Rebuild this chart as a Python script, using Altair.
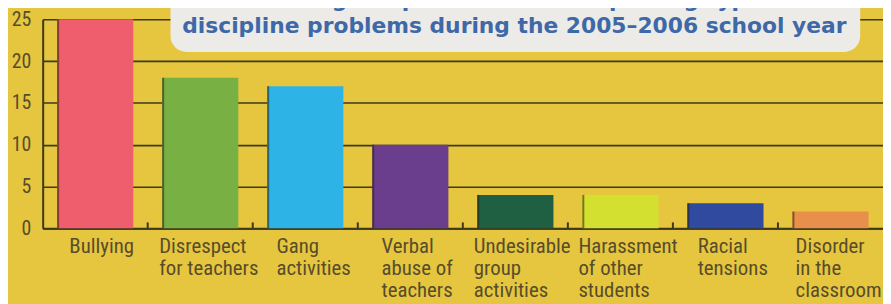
import altair as alt
import pandas as pd

# ---- data ----
categories = ["Bullying", "Disrespect for teachers", "Gang activities",
              "Verbal abuse of teachers", "Undesirable group activities",
              "Harassment of other students", "Racial tensions",
              "Disorder in the classroom"]
label_lines = [["Bullying"], ["Disrespect", "for teachers"], ["Gang", "activities"],
               ["Verbal", "abuse of", "teachers"], ["Undesirable", "group", "activities"],
               ["Harassment", "of other", "students"], ["Racial", "tensions"],
               ["Disorder", "in the", "classroom"]]
values = [25, 18, 17, 10, 4, 4, 3, 2]
bar_colors = ["#ee5e6c", "#78b044", "#2db3e6", "#6a3d8d", "#1f5f42",
              "#d4e02f", "#2f4a9e", "#e8904b"]
y_ticks = [0, 5, 10, 15, 20, 25]
title_lines = ["Percentage of public schools reporting types of",
               "discipline problems during the 2005\u20132006 school year"]

# ---- styling ----
BG = "#e6c63e"
DARK = "#3d3820"
LABEL = "#574d2c"
BLUE = "#3e68a8"
BOX = "#ecebe7"
W, H = 848, 211
LABEL_FONT = "Liberation Sans Narrow, Roboto Condensed, Liberation Sans"
LABEL_SIZE = 21

# approximate Arial advance widths (per 1000 em) for centring label blocks
_w = dict(a=556, b=556, c=500, d=556, e=556, f=278, g=556, h=556, i=222, j=222,
          k=500, l=222, m=833, n=556, o=556, p=556, q=556, r=333, s=500, t=278,
          u=556, v=500, w=722, x=500, y=500, z=500, B=667, D=722, G=778, V=667,
          U=722, H=722, R=722)
_w[" "] = 278


def text_width(s):
    return sum(_w.get(ch, 556) for ch in s) * 0.82 * LABEL_SIZE / 1000


df = pd.DataFrame({
    "cat": categories,
    "value": values,
    "label": ["\n".join(l) for l in label_lines],
})

xscale = alt.Scale(domain=categories, paddingInner=0.275, paddingOuter=0.1375)
yscale = alt.Scale(domain=[0, 25], nice=False)

base = alt.Chart(df)

bars = base.mark_bar().encode(
    x=alt.X("cat:N", scale=xscale, sort=categories,
            axis=alt.Axis(labels=False, ticks=False, title=None, domain=True,
                          domainColor=DARK, domainWidth=2)),
    y=alt.Y("value:Q", scale=yscale,
            axis=alt.Axis(values=y_ticks, title=None, ticks=False, grid=True,
                          gridColor=DARK, gridWidth=1.6, domainColor=DARK,
                          domainWidth=2, labelFont=LABEL_FONT, labelFontSize=20,
                          labelColor=LABEL, labelPadding=12)),
    color=alt.Color("cat:N", scale=alt.Scale(domain=categories, range=bar_colors),
                    legend=None),
)

# dark left edge on each bar (3-D look)
edges = base.mark_rule(color="#2a2010", opacity=0.55, strokeWidth=2, xOffset=1).encode(
    x=alt.X("cat:N", scale=xscale, sort=categories, bandPosition=0),
    y=alt.Y("value:Q", scale=yscale),
    y2=alt.datum(0),
)

# small upward ticks between bars
ticks = base.transform_filter(alt.datum.cat != categories[0]).mark_rule(
    color=DARK, strokeWidth=2, xOffset=-14.6, y2Offset=-6).encode(
    x=alt.X("cat:N", scale=xscale, sort=categories, bandPosition=0),
    y=alt.datum(0),
    y2=alt.datum(0),
)

# category labels (left-aligned lines, block centred under bar)
label_layers = []
for cat, lines in zip(categories, label_lines):
    w = max(text_width(s) for s in lines)
    label_layers.append(
        base.transform_filter(alt.datum.cat == cat).mark_text(
            align="left", baseline="alphabetic", lineBreak="\n", lineHeight=22,
            font=LABEL_FONT, fontSize=LABEL_SIZE, color=LABEL, dx=4 - w / 2,
        ).encode(
            x=alt.X("cat:N", scale=xscale, sort=categories),
            y=alt.value(H + 25),
            text="label:N",
        )
    )

# title box
tdf = pd.DataFrame({"title": ["\n".join(title_lines)]})
box = alt.Chart(tdf).mark_rect(fill=BOX, cornerRadius=16).encode(
    x=alt.value(129), x2=alt.value(825), y=alt.value(-70), y2=alt.value(33)
)
title = alt.Chart(tdf).mark_text(
    align="center", baseline="alphabetic", lineBreak="\n", lineHeight=26,
    font="DejaVu Sans", fontWeight="bold", fontSize=22, color=BLUE,
).encode(x=alt.value(476), y=alt.value(-12), text="title:N")

chart = alt.layer(bars, edges, ticks, *label_layers, box, title).properties(
    width=W, height=H,
    autosize=alt.AutoSizeParams(type="none"),
    padding={"left": 35, "top": 10, "right": 0, "bottom": 75},
    background=BG,
).configure_view(stroke=None)

chart.save("out.html", embed_options={"renderer": "svg", "actions": False})
